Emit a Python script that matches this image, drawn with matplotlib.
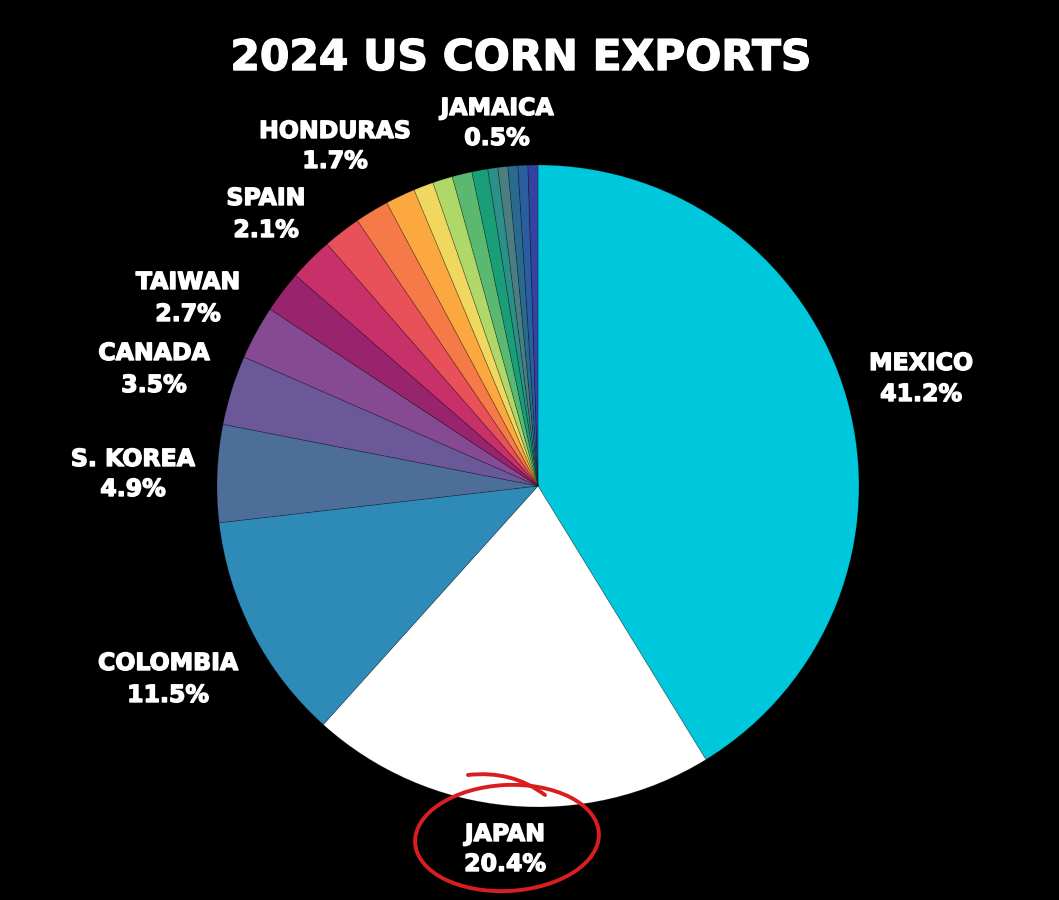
import matplotlib
matplotlib.use("Agg")
import matplotlib.pyplot as plt
import matplotlib.patheffects as pe
from matplotlib.patches import Ellipse, PathPatch
from matplotlib.path import Path

# ---- data ----
countries = ["MEXICO", "JAPAN", "COLOMBIA", "S. KOREA", "CANADA", "TAIWAN", "SPAIN",
             "", "", "HONDURAS", "", "", "", "", "", "", "", "", "", "JAMAICA"]
shares = [41.2, 20.4, 11.5, 4.9, 3.5, 2.7, 2.1,
          2.2, 1.9, 1.7, 1.5, 1.0, 1.0, 1.0, 0.8, 0.5, 0.5, 0.5, 0.5, 0.5]
colors = ["#00c8dc", "#ffffff", "#2e8bb8", "#4e6e9a", "#6a5898", "#864a92", "#98246e",
          "#c8306a", "#e8505a", "#f57a48", "#fba840", "#f0d860", "#b0d868", "#5ab870",
          "#1a9e78", "#2a9088", "#4a7e80", "#2a6a8e", "#2a5ea0", "#3442a0"]

# label positions (pixel centres: x, name line y, value line y)
label_pos = {
    "MEXICO": (921, 363, 394),
    "JAPAN": (505, 834, 864),
    "COLOMBIA": (168, 663, 695),
    "S. KOREA": (133, 459, 489),
    "CANADA": (154, 353, 385),
    "TAIWAN": (188, 282, 314),
    "SPAIN": (266, 198, 230),
    "HONDURAS": (335, 131, 161),
    "JAMAICA": (497, 108, 138),
}

W, H = 1059, 900
fig = plt.figure(figsize=(W / 100, H / 100), dpi=100, facecolor="black")

cx, cy, r = 538, 486, 321
ax = fig.add_axes([(cx - r) / W, (H - cy - r) / H, 2 * r / W, 2 * r / H])
ax.set_facecolor("black")
ax.pie(shares, colors=colors, startangle=90, counterclock=False, radius=1,
       wedgeprops=dict(edgecolor=(0, 0, 0, 0.25), linewidth=0.6))
ax.set_xlim(-1, 1)
ax.set_ylim(-1, 1)
ax.set_aspect("equal")
ax.axis("off")

font = "DejaVu Sans"
heavy = [pe.withStroke(linewidth=1.0, foreground="white")]
fig.text(521 / W, 1 - 58 / H, "2024 US CORN EXPORTS", color="white", fontsize=30.5,
         fontweight="bold", family=font, ha="center", va="center", path_effects=heavy)

for name, val in zip(countries, shares):
    if not name:
        continue
    x, y1, y2 = label_pos[name]
    fig.text(x / W, 1 - y1 / H, name, color="white", fontsize=17, fontweight="bold",
             family=font, ha="center", va="center", path_effects=heavy)
    fig.text(x / W, 1 - y2 / H, f"{val}%", color="white", fontsize=17, fontweight="bold",
             family=font, ha="center", va="center", path_effects=heavy)

# hand-drawn red circle around JAPAN label (annotation overlay)
ov = fig.add_axes([0, 0, 1, 1], facecolor="none")
ov.set_xlim(0, W)
ov.set_ylim(H, 0)
ov.axis("off")
red = "#d81e1e"
ov.add_patch(Ellipse((507, 838), 184, 106, angle=-3, fill=False, edgecolor=red, linewidth=2.8))
stroke = Path([(468, 775), (512, 770), (545, 795)], [Path.MOVETO, Path.CURVE3, Path.CURVE3])
ov.add_patch(PathPatch(stroke, fill=False, edgecolor=red, linewidth=2.8, capstyle="round"))

fig.savefig("out.png", dpi=100, facecolor="black")
